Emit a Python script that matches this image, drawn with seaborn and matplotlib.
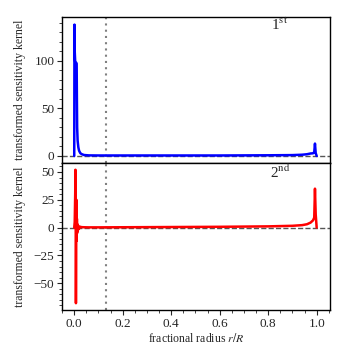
import matplotlib
matplotlib.use("Agg")
import matplotlib.pyplot as plt
import seaborn as sns
import pandas as pd
from matplotlib.ticker import MultipleLocator

# first kernel (blue)
r_first = [0.000, 0.001, 0.002, 0.004, 0.006, 0.008, 0.010, 0.011, 0.012, 0.014,
           0.017, 0.020, 0.025, 0.030, 0.040, 0.060, 0.100, 0.200, 0.300, 0.400,
           0.500, 0.600, 0.700, 0.800, 0.900, 0.940, 0.960, 0.975, 0.985, 0.990,
           0.993, 0.996, 1.000]
k_first = [0.0, 138.0, 110.0, 99.0, 98.5, 98.0, 97.0, 60.0, 30.0, 16.0,
           9.0, 5.5, 3.0, 2.0, 1.0, 0.6, 0.5, 0.5, 0.5, 0.5,
           0.5, 0.5, 0.6, 0.7, 0.9, 1.3, 1.8, 2.6, 2.8, 4.0,
           13.0, 3.0, 0.0]

# second kernel (red)
r_second = [0.000, 0.002, 0.004, 0.005, 0.006, 0.007, 0.008, 0.009, 0.010, 0.011,
            0.012, 0.013, 0.015, 0.017, 0.020, 0.024, 0.030, 0.040, 0.060, 0.100,
            0.200, 0.300, 0.400, 0.500, 0.600, 0.700, 0.800, 0.900, 0.940, 0.960,
            0.975, 0.985, 0.990, 0.993, 0.996, 1.000]
k_second = [0.0, 5.0, 30.0, 52.0, 10.0, -68.0, -20.0, 25.0, -12.0, 8.0,
            -5.0, 3.0, -2.5, 1.5, -1.0, 0.8, 0.4, 0.3, 0.2, 0.2,
            0.3, 0.4, 0.5, 0.6, 0.7, 0.9, 1.1, 1.6, 2.2, 3.0,
            4.5, 6.5, 9.0, 35.0, 12.0, 0.0]

x_marker = 0.131

df1 = pd.DataFrame({"r": r_first, "k": k_first})
df2 = pd.DataFrame({"r": r_second, "k": k_second})

sns.set_style("ticks")
plt.rcParams["font.family"] = ["Liberation Serif", "DejaVu Serif"]
plt.rcParams["mathtext.fontset"] = "stix"

fig = plt.figure(figsize=(3.47, 3.47), dpi=100)
ax1 = fig.add_axes([0.179, 0.530, 0.772, 0.421])
ax2 = fig.add_axes([0.179, 0.107, 0.772, 0.423], sharex=ax1)

for ax, df, color in [(ax1, df1, "blue"), (ax2, df2, "red")]:
    ax.axhline(0, color="#555555", ls="--", lw=1, zorder=1)
    ax.axvline(x_marker, color="gray", ls=(0, (1, 2)), lw=1.5, zorder=1)
    sns.lineplot(data=df, x="r", y="k", ax=ax, color=color, lw=1.8,
                 sort=False, estimator=None, zorder=3)
    ax.set_xlabel("")
    ax.set_ylabel("transformed sensitivity kernel", fontsize=8.5, labelpad=6)
    for s in ax.spines.values():
        s.set_visible(True)
        s.set_color("black")
        s.set_linewidth(1.0)

ax1.set_xlim(-0.05, 1.055)
ax1.set_ylim(-7.5, 146)
ax1.yaxis.set_major_locator(MultipleLocator(50))
ax1.yaxis.set_minor_locator(MultipleLocator(10))

ax2.set_ylim(-74, 58)
ax2.yaxis.set_major_locator(MultipleLocator(25))
ax2.yaxis.set_minor_locator(MultipleLocator(5))
ax2.xaxis.set_major_locator(MultipleLocator(0.2))
ax2.xaxis.set_minor_locator(MultipleLocator(0.05))
ax2.set_xlabel("fractional radius $r/R$", fontsize=8.5, labelpad=2)

for ax in (ax1, ax2):
    ax.tick_params(which="major", direction="out", length=3.5, width=0.8,
                   labelsize=9.5, right=False, top=False, pad=2)
    ax.tick_params(which="minor", direction="out", length=2, width=0.6,
                   right=False, top=False)
    ax.minorticks_on()
ax1.tick_params(axis="x", which="both", bottom=False, labelbottom=False)

ax1.text(0.813, 0.945, "1$^{\\rm st}$", transform=ax1.transAxes,
         ha="center", va="center", fontsize=11)
ax2.text(0.813, 0.935, "2$^{\\rm nd}$", transform=ax2.transAxes,
         ha="center", va="center", fontsize=11)

fig.align_ylabels([ax1, ax2])
plt.savefig("out.png", dpi=100)
plt.close()
